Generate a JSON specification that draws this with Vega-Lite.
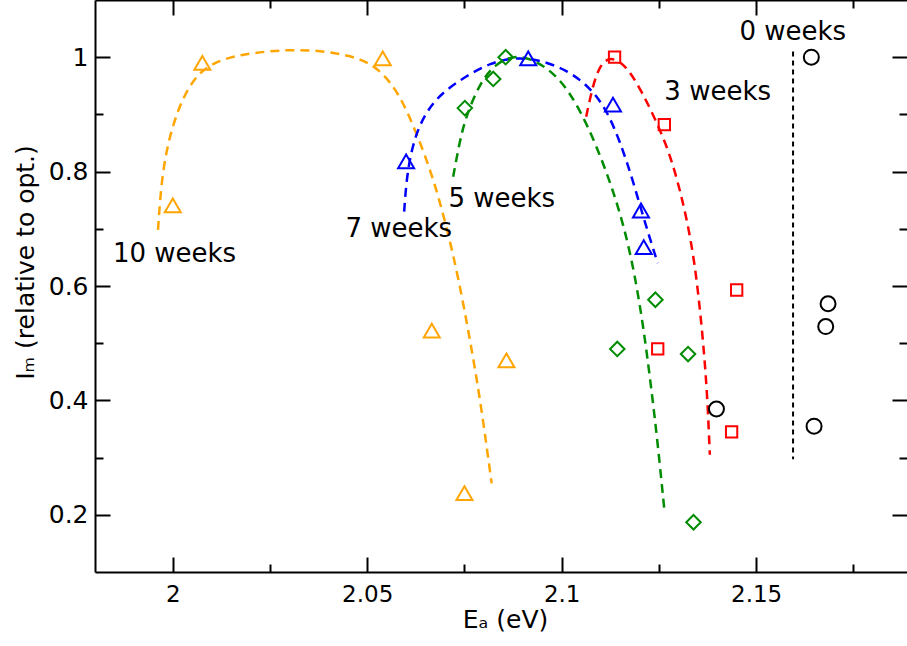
{
  "$schema": "https://vega.github.io/schema/vega-lite/v6.json",
  "width": 812,
  "height": 572,
  "autosize": {"type": "none"},
  "padding": {"left": 95, "top": 0, "right": 0, "bottom": 74},
  "config": {
    "view": {"stroke": null},
    "font": "DejaVu Sans",
    "axis": {"grid": false, "domainColor": "#000", "domainWidth": 2, "tickColor": "#000", "tickWidth": 2, "labelColor": "#000", "titleColor": "#000", "labelFont": "DejaVu Sans", "titleFont": "DejaVu Sans", "titleFontWeight": "normal"}
  },
  "datasets": {
    "curves": [
      {"series": "10 weeks", "ord": 1, "x": 1.9962, "y": 0.698},
      {"series": "10 weeks", "ord": 2, "x": 1.9972, "y": 0.797},
      {"series": "10 weeks", "ord": 3, "x": 1.9997, "y": 0.879},
      {"series": "10 weeks", "ord": 4, "x": 2.0038, "y": 0.949},
      {"series": "10 weeks", "ord": 5, "x": 2.0089, "y": 0.988},
      {"series": "10 weeks", "ord": 6, "x": 2.0174, "y": 1.006},
      {"series": "10 weeks", "ord": 7, "x": 2.0328, "y": 1.016},
      {"series": "10 weeks", "ord": 8, "x": 2.0464, "y": 1.004},
      {"series": "10 weeks", "ord": 9, "x": 2.0533, "y": 0.98},
      {"series": "10 weeks", "ord": 10, "x": 2.0585, "y": 0.933},
      {"series": "10 weeks", "ord": 11, "x": 2.0627, "y": 0.867},
      {"series": "10 weeks", "ord": 12, "x": 2.0669, "y": 0.791},
      {"series": "10 weeks", "ord": 13, "x": 2.0704, "y": 0.704},
      {"series": "10 weeks", "ord": 14, "x": 2.0734, "y": 0.616},
      {"series": "10 weeks", "ord": 15, "x": 2.0763, "y": 0.511},
      {"series": "10 weeks", "ord": 16, "x": 2.079, "y": 0.405},
      {"series": "10 weeks", "ord": 17, "x": 2.082, "y": 0.255},
      {"series": "7 weeks", "ord": 1, "x": 2.0595, "y": 0.73},
      {"series": "7 weeks", "ord": 2, "x": 2.0602, "y": 0.797},
      {"series": "7 weeks", "ord": 3, "x": 2.0623, "y": 0.867},
      {"series": "7 weeks", "ord": 4, "x": 2.0668, "y": 0.925},
      {"series": "7 weeks", "ord": 5, "x": 2.0745, "y": 0.964},
      {"series": "7 weeks", "ord": 6, "x": 2.082, "y": 0.991},
      {"series": "7 weeks", "ord": 7, "x": 2.0875, "y": 0.999},
      {"series": "7 weeks", "ord": 8, "x": 2.0935, "y": 0.997},
      {"series": "7 weeks", "ord": 9, "x": 2.1012, "y": 0.979},
      {"series": "7 weeks", "ord": 10, "x": 2.1075, "y": 0.946},
      {"series": "7 weeks", "ord": 11, "x": 2.1115, "y": 0.908},
      {"series": "7 weeks", "ord": 12, "x": 2.1149, "y": 0.855},
      {"series": "7 weeks", "ord": 13, "x": 2.1183, "y": 0.785},
      {"series": "7 weeks", "ord": 14, "x": 2.1217, "y": 0.704},
      {"series": "7 weeks", "ord": 15, "x": 2.1247, "y": 0.64},
      {"series": "5 weeks", "ord": 1, "x": 2.0721, "y": 0.791},
      {"series": "5 weeks", "ord": 2, "x": 2.0737, "y": 0.85},
      {"series": "5 weeks", "ord": 3, "x": 2.0753, "y": 0.895},
      {"series": "5 weeks", "ord": 4, "x": 2.079, "y": 0.956},
      {"series": "5 weeks", "ord": 5, "x": 2.0833, "y": 0.991},
      {"series": "5 weeks", "ord": 6, "x": 2.0884, "y": 1.004},
      {"series": "5 weeks", "ord": 7, "x": 2.0935, "y": 0.994},
      {"series": "5 weeks", "ord": 8, "x": 2.0995, "y": 0.964},
      {"series": "5 weeks", "ord": 9, "x": 2.1046, "y": 0.91},
      {"series": "5 weeks", "ord": 10, "x": 2.1089, "y": 0.846},
      {"series": "5 weeks", "ord": 11, "x": 2.1129, "y": 0.774},
      {"series": "5 weeks", "ord": 12, "x": 2.1162, "y": 0.7},
      {"series": "5 weeks", "ord": 13, "x": 2.1188, "y": 0.62},
      {"series": "5 weeks", "ord": 14, "x": 2.121, "y": 0.529},
      {"series": "5 weeks", "ord": 15, "x": 2.1229, "y": 0.43},
      {"series": "5 weeks", "ord": 16, "x": 2.1247, "y": 0.325},
      {"series": "5 weeks", "ord": 17, "x": 2.1264, "y": 0.209},
      {"series": "3 weeks", "ord": 1, "x": 2.1063, "y": 0.896},
      {"series": "3 weeks", "ord": 2, "x": 2.108, "y": 0.95},
      {"series": "3 weeks", "ord": 3, "x": 2.1098, "y": 0.986},
      {"series": "3 weeks", "ord": 4, "x": 2.1125, "y": 1.002},
      {"series": "3 weeks", "ord": 5, "x": 2.1166, "y": 0.986},
      {"series": "3 weeks", "ord": 6, "x": 2.1206, "y": 0.94},
      {"series": "3 weeks", "ord": 7, "x": 2.1242, "y": 0.89},
      {"series": "3 weeks", "ord": 8, "x": 2.1276, "y": 0.835},
      {"series": "3 weeks", "ord": 9, "x": 2.1302, "y": 0.774},
      {"series": "3 weeks", "ord": 10, "x": 2.1324, "y": 0.71},
      {"series": "3 weeks", "ord": 11, "x": 2.1342, "y": 0.64},
      {"series": "3 weeks", "ord": 12, "x": 2.1356, "y": 0.558},
      {"series": "3 weeks", "ord": 13, "x": 2.1367, "y": 0.477},
      {"series": "3 weeks", "ord": 14, "x": 2.1375, "y": 0.401},
      {"series": "3 weeks", "ord": 15, "x": 2.1381, "y": 0.305}
    ],
    "points": [
      {"series": "10 weeks", "x": 2.0, "y": 0.741},
      {"series": "10 weeks", "x": 2.0076, "y": 0.99},
      {"series": "10 weeks", "x": 2.054, "y": 0.998},
      {"series": "10 weeks", "x": 2.0666, "y": 0.522},
      {"series": "10 weeks", "x": 2.0858, "y": 0.47},
      {"series": "10 weeks", "x": 2.075, "y": 0.238},
      {"series": "7 weeks", "x": 2.06, "y": 0.818},
      {"series": "7 weeks", "x": 2.0914, "y": 0.998},
      {"series": "7 weeks", "x": 2.1132, "y": 0.917},
      {"series": "7 weeks", "x": 2.1204, "y": 0.732},
      {"series": "7 weeks", "x": 2.1211, "y": 0.668},
      {"series": "5 weeks", "x": 2.0751, "y": 0.911},
      {"series": "5 weeks", "x": 2.0824, "y": 0.962},
      {"series": "5 weeks", "x": 2.0856, "y": 1.0},
      {"series": "5 weeks", "x": 2.1241, "y": 0.576},
      {"series": "5 weeks", "x": 2.1143, "y": 0.49},
      {"series": "5 weeks", "x": 2.1325, "y": 0.481},
      {"series": "5 weeks", "x": 2.1339, "y": 0.187},
      {"series": "3 weeks", "x": 2.1136, "y": 1.0},
      {"series": "3 weeks", "x": 2.1264, "y": 0.882},
      {"series": "3 weeks", "x": 2.145, "y": 0.593},
      {"series": "3 weeks", "x": 2.1247, "y": 0.49},
      {"series": "3 weeks", "x": 2.1437, "y": 0.345},
      {"series": "0 weeks", "x": 2.1642, "y": 1.0},
      {"series": "0 weeks", "x": 2.1685, "y": 0.569},
      {"series": "0 weeks", "x": 2.1679, "y": 0.529},
      {"series": "0 weeks", "x": 2.1649, "y": 0.355},
      {"series": "0 weeks", "x": 2.1398, "y": 0.385}
    ],
    "labels": [
      {"text": "10 weeks", "x": 1.9846, "y": 0.642},
      {"text": "7 weeks", "x": 2.0444, "y": 0.6864},
      {"text": "5 weeks", "x": 2.0709, "y": 0.7388},
      {"text": "3 weeks", "x": 2.1264, "y": 0.9253},
      {"text": "0 weeks", "x": 2.1457, "y": 1.0302}
    ],
    "vline": [
      {"x": 2.1595, "y": 1.01, "y2": 0.297}
    ]
  },
  "resolve": {"scale": {"x": "shared", "y": "shared"}, "axis": {"x": "independent", "y": "independent"}},
  "layer": [
    {
      "data": {"name": "curves"},
      "mark": {"type": "line", "interpolate": "basis", "strokeDash": [9, 6], "strokeWidth": 2.5, "strokeCap": "butt"},
      "encoding": {
        "x": {"field": "x", "type": "quantitative", "scale": {"domain": [1.98, 2.1888], "nice": false, "zero": false},
          "axis": {"orient": "bottom", "values": [2, 2.05, 2.1, 2.15], "format": "~g", "tickSize": -15, "labelPadding": 26, "labelFontSize": 23, "title": "Eₐ (eV)", "titleFontSize": 25, "titleX": 410, "titleY": 55, "titleBaseline": "alphabetic"}},
        "y": {"field": "y", "type": "quantitative", "scale": {"domain": [0.1, 1.1], "nice": false, "zero": false},
          "axis": {"orient": "left", "values": [0.2, 0.4, 0.6, 0.8, 1], "format": "~g", "tickSize": -15, "labelPadding": 22, "labelFontSize": 25, "title": "Iₘ (relative to opt.)", "titleFontSize": 25, "titleX": -62, "titleY": 262, "titleBaseline": "alphabetic"}},
        "color": {"field": "series", "type": "nominal", "legend": null,
          "scale": {"domain": ["0 weeks", "3 weeks", "5 weeks", "7 weeks", "10 weeks"], "range": ["#000000", "#FF0000", "#008C00", "#0000FF", "#FFA500"]}},
        "detail": {"field": "series"},
        "order": {"field": "ord", "type": "quantitative"}
      }
    },
    {
      "data": {"name": "vline"},
      "mark": {"type": "rule", "strokeDash": [5, 4], "strokeWidth": 2, "color": "#000000"},
      "encoding": {
        "x": {"field": "x", "type": "quantitative", "scale": {"domain": [1.98, 2.1888], "nice": false, "zero": false},
          "axis": {"orient": "bottom", "values": [2.025, 2.075, 2.125, 2.175], "labels": false, "domain": false, "tickSize": -8, "title": null}},
        "y": {"field": "y", "type": "quantitative", "scale": {"domain": [0.1, 1.1], "nice": false, "zero": false},
          "axis": {"orient": "left", "values": [0.3, 0.5, 0.7, 0.9], "labels": false, "domain": false, "tickSize": -8, "title": null}},
        "y2": {"field": "y2"}
      }
    },
    {
      "data": {"name": "points"},
      "transform": [{"filter": "datum.series === '10 weeks' || datum.series === '7 weeks'"}],
      "mark": {"type": "point", "shape": "triangle-up", "filled": false, "strokeWidth": 2, "size": 256, "opacity": 1},
      "encoding": {
        "x": {"field": "x", "type": "quantitative", "scale": {"domain": [1.98, 2.1888], "nice": false, "zero": false},
          "axis": {"orient": "top", "values": [2, 2.05, 2.1, 2.15], "labels": false, "domain": true, "tickSize": -15, "title": null}},
        "y": {"field": "y", "type": "quantitative", "scale": {"domain": [0.1, 1.1], "nice": false, "zero": false},
          "axis": {"orient": "right", "values": [0.2, 0.4, 0.6, 0.8, 1], "labels": false, "domain": false, "tickSize": -15, "title": null}},
        "color": {"field": "series", "type": "nominal", "legend": null}
      }
    },
    {
      "data": {"name": "points"},
      "transform": [{"filter": "datum.series === '5 weeks'"}],
      "mark": {"type": "point", "shape": "diamond", "filled": false, "strokeWidth": 2, "size": 210, "opacity": 1},
      "encoding": {
        "x": {"field": "x", "type": "quantitative", "axis": null},
        "y": {"field": "y", "type": "quantitative", "axis": null},
        "color": {"field": "series", "type": "nominal", "legend": null}
      }
    },
    {
      "data": {"name": "points"},
      "transform": [{"filter": "datum.series === '3 weeks'"}],
      "mark": {"type": "point", "shape": "square", "filled": false, "strokeWidth": 2, "size": 128, "opacity": 1},
      "encoding": {
        "x": {"field": "x", "type": "quantitative", "axis": null},
        "y": {"field": "y", "type": "quantitative", "axis": null},
        "color": {"field": "series", "type": "nominal", "legend": null}
      }
    },
    {
      "data": {"name": "points"},
      "transform": [{"filter": "datum.series === '0 weeks'"}],
      "mark": {"type": "point", "shape": "circle", "filled": false, "strokeWidth": 2, "size": 225, "opacity": 1},
      "encoding": {
        "x": {"field": "x", "type": "quantitative", "axis": null},
        "y": {"field": "y", "type": "quantitative", "axis": null},
        "color": {"field": "series", "type": "nominal", "legend": null}
      }
    },
    {
      "data": {"name": "labels"},
      "mark": {"type": "text", "align": "left", "baseline": "alphabetic", "fontSize": 26, "font": "DejaVu Sans", "color": "#000000"},
      "encoding": {
        "x": {"field": "x", "type": "quantitative", "scale": {"domain": [1.98, 2.1888], "nice": false, "zero": false},
          "axis": {"orient": "top", "values": [2.025, 2.075, 2.125, 2.175], "labels": false, "domain": false, "tickSize": -8, "title": null}},
        "y": {"field": "y", "type": "quantitative", "scale": {"domain": [0.1, 1.1], "nice": false, "zero": false},
          "axis": {"orient": "right", "values": [0.3, 0.5, 0.7, 0.9], "labels": false, "domain": false, "tickSize": -8, "title": null}},
        "text": {"field": "text", "type": "nominal"}
      }
    }
  ]
}
